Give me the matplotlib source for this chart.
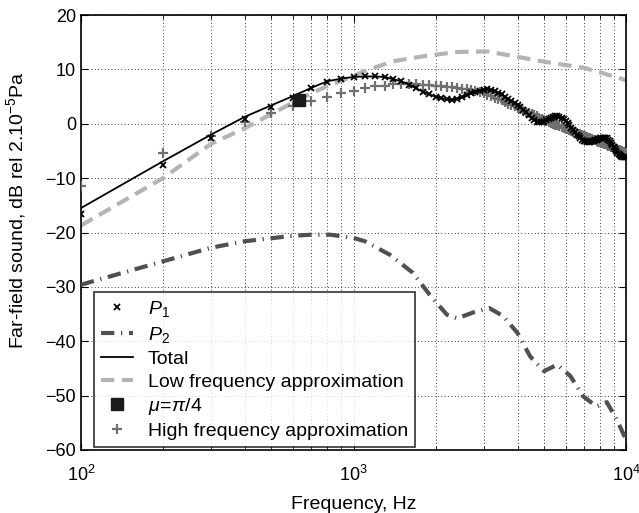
import numpy as np
import matplotlib
matplotlib.use("Agg")
import matplotlib.pyplot as plt

plt.rcParams['font.family'] = ['Liberation Sans', 'DejaVu Sans']
plt.rcParams['mathtext.fontset'] = 'custom'
plt.rcParams['mathtext.rm'] = 'Liberation Sans'
plt.rcParams['mathtext.it'] = 'Liberation Sans:italic'

# frequency grid of the marker series (100 Hz steps)
freq = np.arange(100, 10001, 100)

# P1 (x markers), dB
p1 = [-16.6, -7.5, -2.6, 0.9, 3.0, 4.8, 6.5, 7.7, 8.3, 8.6,
      8.7, 8.7, 8.6, 8.2, 7.8, 7.2, 6.5, 5.9, 5.4, 5.0,
      4.7, 4.5, 4.4, 4.6, 4.9, 5.2, 5.6, 5.9, 6.1, 6.2,
      6.3, 6.2, 6.0, 5.7, 5.4, 5.0, 4.6, 4.2, 3.8, 3.4,
      3.0, 2.6, 2.1, 1.6, 1.1, 0.7, 0.4, 0.3, 0.3, 0.4,
      0.6, 0.9, 1.1, 1.3, 1.4, 1.4, 1.3, 1.1, 0.8, 0.5,
      0.2, -0.2, -0.7, -1.2, -1.6, -2.0, -2.3, -2.6, -2.9, -3.1,
      -3.2, -3.3, -3.3, -3.3, -3.2, -3.1, -3.0, -2.9, -2.8, -2.7,
      -2.6, -2.6, -2.6, -2.6, -2.7, -2.9, -3.2, -3.5, -3.9, -4.3,
      -4.7, -5.0, -5.3, -5.6, -5.8, -6.0, -6.1, -6.2, -6.2, -6.2]

# Total (solid line), dB
total = [-15.5, -6.9, -2.0, 1.3, 3.4, 5.1, 6.6, 7.8, 8.3, 8.6,
         8.7, 8.7, 8.6, 8.2, 7.8, 7.2, 6.5, 5.9, 5.4, 5.0,
         4.7, 4.5, 4.4, 4.6, 4.9, 5.2, 5.6, 5.9, 6.1, 6.2,
         6.3, 6.2, 6.0, 5.7, 5.4, 5.0, 4.6, 4.2, 3.8, 3.4,
         3.0, 2.6, 2.1, 1.6, 1.1, 0.7, 0.4, 0.3, 0.3, 0.4,
         0.6, 0.9, 1.1, 1.3, 1.4, 1.4, 1.3, 1.1, 0.8, 0.5,
         0.2, -0.2, -0.7, -1.2, -1.6, -2.0, -2.3, -2.6, -2.9, -3.1,
         -3.2, -3.3, -3.3, -3.3, -3.2, -3.1, -3.0, -2.9, -2.8, -2.7,
         -2.6, -2.6, -2.6, -2.6, -2.7, -2.9, -3.2, -3.5, -3.9, -4.3,
         -4.7, -5.0, -5.3, -5.6, -5.8, -6.0, -6.1, -6.2, -6.2, -6.2]

# High frequency approximation (+ markers), dB
hf = [-11.4, -5.4, -2.3, 0.4, 2.0, 3.2, 4.2, 5.0, 5.6, 6.1,
      6.6, 6.9, 7.0, 7.3, 7.3, 7.3, 7.3, 7.2, 7.1, 7.0,
      6.9, 6.8, 6.7, 6.6, 6.45, 6.3, 6.15, 6.0, 5.8, 5.6,
      5.35, 5.1, 4.8, 4.55, 4.3, 4.0, 3.7, 3.45, 3.2, 2.9,
      2.65, 2.4, 2.2, 2.0, 1.8, 1.55, 1.35, 1.1, 0.9, 0.7,
      0.5, 0.35, 0.2, 0.0, -0.15, -0.3, -0.45, -0.6, -0.75, -0.9,
      -1.05, -1.2, -1.3, -1.45, -1.6, -1.7, -1.85, -1.95, -2.1, -2.2,
      -2.3, -2.45, -2.55, -2.7, -2.8, -2.9, -3.05, -3.15, -3.3, -3.4,
      -3.5, -3.6, -3.7, -3.8, -3.9, -4.0, -4.1, -4.2, -4.3, -4.4,
      -4.5, -4.6, -4.7, -4.8, -4.9, -5.0, -5.1, -5.2, -5.3, -5.4]

# Low frequency approximation (dashed)
lf_freq = [100, 200, 300, 400, 500, 600, 700, 800, 900, 1000, 1100, 1400,
           1800, 2400, 3100, 4000, 5300, 7000, 9300, 10000]
lf = [-18.7, -10.0, -3.7, -0.8, 1.8, 3.9, 5.6, 6.9, 7.9, 8.8, 9.7, 11.5,
      12.4, 13.2, 13.3, 12.3, 11.2, 10.3, 8.5, 8.0]

# P2 (dash-dot)
p2_freq = [100, 200, 300, 400, 600, 700, 820, 1000, 1100, 1360, 1650, 1900,
           2200, 2400, 2750, 3150, 3550, 4000, 4450, 5000, 5600, 6250, 6950,
           7800, 8500, 9250, 10000]
p2 = [-29.6, -25.3, -22.8, -21.6, -20.6, -20.4, -20.4, -21.0, -21.6, -24.1,
      -27.4, -31.4, -35.1, -35.8, -34.7, -33.9, -35.4, -38.5, -42.8, -45.5,
      -44.3, -46.4, -50.1, -52.0, -51.2, -54.4, -58.1]

# mu = pi/4 point
mu_freq = [630]
mu_db = [4.4]

fig = plt.figure(figsize=(6.39, 5.13), dpi=100)
ax = fig.add_axes([81 / 639, 1 - 450 / 513, 545 / 639, 435 / 513])

ax.plot(freq, p1, 'x', color='black', ms=4.5, mew=1.3, label='$P_1$', zorder=4)
ax.plot(p2_freq, p2, color='#505050', lw=3, dashes=(3.2, 1.6, 0.3, 1.6),
        label='$P_2$', zorder=3)
ax.plot(freq, total, '-', color='black', lw=1.3, label='Total', zorder=5)
ax.plot(lf_freq, lf, color='#b4b4b4', lw=3, dashes=(3.2, 1.8),
        label='Low frequency approximation', zorder=2)
ax.plot(mu_freq, mu_db, 's', color='#1a1a1a', ms=9, label=r'$\mu\!=\!\pi/4$', zorder=6)
ax.plot(freq, hf, '+', color='#707070', ms=7, mew=1.6,
        label='High frequency approximation', zorder=3)

ax.set_xscale('log')
ax.set_xlim(100, 10000)
ax.set_ylim(-60, 20)
ax.set_yticks(np.arange(-60, 21, 10))

ax.grid(True, which='major', color='black', linestyle=(0, (1, 3)), lw=0.6)
ax.grid(True, which='minor', axis='x', color='black', linestyle=(0, (1, 3)), lw=0.6)
ax.tick_params(which='both', direction='in', top=True, right=True, labelsize=13)
ax.tick_params(which='major', length=5)
ax.tick_params(which='minor', length=3)
ax.tick_params(axis='x', which='major', pad=11)
for s in ax.spines.values():
    s.set_linewidth(1.2)

ax.set_xlabel('Frequency, Hz', fontsize=14, labelpad=8)
ax.set_ylabel('Far-field sound, dB rel 2.10$^{-5}$Pa', fontsize=14)
ax.yaxis.set_label_coords(-0.097, 0.55)

leg = ax.legend(loc='lower left', bbox_to_anchor=(0.024, 0.007), fontsize=14,
                frameon=True, fancybox=False, edgecolor='black',
                borderpad=0.35, labelspacing=0.28, handlelength=1.65,
                handletextpad=0.75, borderaxespad=0)
leg.get_frame().set_linewidth(1.2)

plt.savefig('out.png', dpi=100)
plt.close()
